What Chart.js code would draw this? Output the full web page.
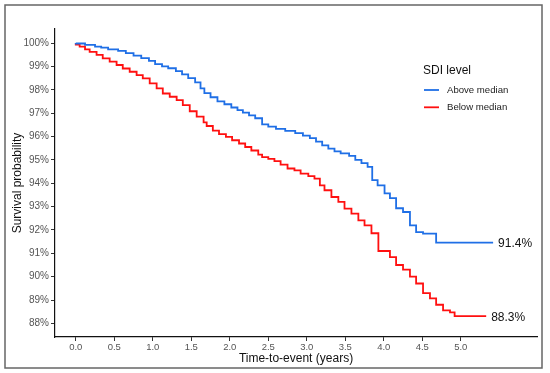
<!DOCTYPE html>
<html>
<head>
<meta charset="utf-8">
<script src="https://cdn.jsdelivr.net/npm/chart.js@4.4.1/dist/chart.umd.min.js"></script>
<style>
    html, body { margin: 0; padding: 0; background: #fff; }
    #wrap { width: 550px; height: 373px; position: relative; }
</style>
</head>
<body>
<div id="wrap"><canvas id="km" width="550" height="373"></canvas></div>
<script>
// Kaplan-Meier steps (years, % surviving)
const aboveTime = [0, 0.12, 0.25, 0.33, 0.42, 0.55, 0.65, 0.75, 0.85, 0.95, 1.03, 1.12, 1.2, 1.3, 1.38,
    1.46, 1.55, 1.62, 1.67, 1.75, 1.84, 1.93, 2.02, 2.1, 2.17, 2.25, 2.33, 2.42, 2.5, 2.6, 2.72, 2.85,
    2.95, 3.04, 3.12, 3.2, 3.28, 3.36, 3.44, 3.55, 3.63, 3.71, 3.79, 3.85, 3.92, 4.01, 4.08, 4.16,
    4.25, 4.34, 4.42, 4.51, 4.68, 4.76, 5.42];
const aboveSurv = [100, 99.98, 99.92, 99.85, 99.8, 99.73, 99.66, 99.57, 99.46, 99.35, 99.24, 99.1, 99.0,
    98.92, 98.8, 98.66, 98.5, 98.32, 98.06, 97.86, 97.68, 97.5, 97.38, 97.24, 97.13, 97.02, 96.9, 96.78,
    96.52, 96.42, 96.33, 96.24, 96.14, 96.04, 95.93, 95.78, 95.62, 95.48, 95.36, 95.28, 95.17, 95.0,
    94.86, 94.7, 94.13, 93.91, 93.57, 93.36, 92.93, 92.77, 92.2, 91.91, 91.84, 91.46, 91.46];

const belowTime = [0, 0.05, 0.12, 0.18, 0.27, 0.35, 0.44, 0.53, 0.61, 0.7, 0.79, 0.87, 0.96, 1.05, 1.13,
    1.22, 1.31, 1.39, 1.48, 1.57, 1.66, 1.7, 1.78, 1.86, 1.95, 2.03, 2.12, 2.2, 2.28, 2.37, 2.42, 2.5,
    2.58, 2.66, 2.75, 2.84, 2.92, 3.02, 3.1, 3.17, 3.23, 3.32, 3.41, 3.49, 3.58, 3.67, 3.75, 3.84,
    3.93, 4.08, 4.16, 4.25, 4.34, 4.42, 4.51, 4.6, 4.68, 4.77, 4.86, 4.92, 5.01, 5.33];
const belowSurv = [100, 99.93, 99.85, 99.73, 99.62, 99.49, 99.34, 99.2, 99.06, 98.91, 98.77, 98.63, 98.49,
    98.27, 98.06, 97.84, 97.7, 97.56, 97.34, 97.08, 96.85, 96.6, 96.45, 96.25, 96.1, 95.98, 95.84, 95.7,
    95.55, 95.4, 95.22, 95.12, 95.04, 94.95, 94.8, 94.63, 94.55, 94.41, 94.3, 94.2, 93.91, 93.7, 93.41,
    93.2, 92.91, 92.7, 92.41, 92.2, 91.86, 91.1, 90.84, 90.5, 90.3, 90.0, 89.71, 89.3, 89.07, 88.8,
    88.56, 88.47, 88.31, 88.31];

const groupNames = ["Above median", "Below median"];
const groupColors = ["#1f6fe6", "#ff1010"];
const endLabels = ["91.4%", "88.3%"];
const xTicks = [0, 0.5, 1, 1.5, 2, 2.5, 3, 3.5, 4, 4.5, 5];
const yTicks = [88, 89, 90, 91, 92, 93, 94, 95, 96, 97, 98, 99, 100];

const FONT = "'Liberation Sans', Arial, sans-serif";

const toPoints = (t, s) => t.map((v, i) => ({ x: v, y: s[i] }));

const framePlugin = {
    id: "frame",
    afterDraw(chart) {
        const ctx = chart.ctx;
        ctx.save();
        ctx.strokeStyle = "#666";
        ctx.lineWidth = 1.5;
        ctx.strokeRect(5, 5, 537, 363);
        ctx.restore();
    }
};

const legendPlugin = {
    id: "kmLegend",
    afterDraw(chart) {
        const ctx = chart.ctx;
        ctx.save();
        ctx.textBaseline = "middle";
        ctx.fillStyle = "#111";
        ctx.font = "12px " + FONT;
        ctx.fillText("SDI level", 423, 71);
        ctx.font = "9.6px " + FONT;
        groupNames.forEach((name, i) => {
            const y = 90 + i * 17.3;
            ctx.strokeStyle = groupColors[i];
            ctx.lineWidth = 1.8;
            ctx.beginPath();
            ctx.moveTo(424, y);
            ctx.lineTo(439, y);
            ctx.stroke();
            ctx.fillStyle = "#222";
            ctx.fillText(name, 447, y);
        });

        // survival at end of follow-up
        const xs = chart.scales.x;
        const ys = chart.scales.y;
        ctx.font = "12px " + FONT;
        ctx.fillStyle = "#111";
        chart.data.datasets.forEach((ds, i) => {
            const last = ds.data[ds.data.length - 1];
            ctx.fillText(endLabels[i], xs.getPixelForValue(last.x) + 5, ys.getPixelForValue(last.y) + 1);
        });
        ctx.restore();
    }
};

new Chart(document.getElementById("km"), {
    type: "line",
    data: {
        datasets: [{
            label: groupNames[0],
            data: toPoints(aboveTime, aboveSurv),
            borderColor: groupColors[0],
            borderWidth: 1.8,
            stepped: "after",
            pointRadius: 0,
            fill: false
        }, {
            label: groupNames[1],
            data: toPoints(belowTime, belowSurv),
            borderColor: groupColors[1],
            borderWidth: 1.8,
            stepped: "after",
            pointRadius: 0,
            fill: false
        }]
    },
    options: {
        responsive: false,
        animation: false,
        events: [],
        layout: {
            padding: { left: 0, top: 29, right: 13, bottom: 0 }
        },
        plugins: {
            legend: { display: false },
            tooltip: { enabled: false }
        },
        scales: {
            x: {
                type: "linear",
                min: -0.27,
                max: 5.99,
                afterBuildTicks: scale => {
                    scale.ticks = xTicks.map(v => ({ value: v }));
                },
                afterFit: scale => {
                    scale.height = 36;
                },
                grid: {
                    drawOnChartArea: false,
                    tickLength: 4,
                    tickColor: "#333"
                },
                border: { display: true, color: "#111", width: 1.2 },
                ticks: {
                    color: "#555",
                    padding: 1,
                    maxRotation: 0,
                    font: { family: FONT, size: 9.5 },
                    callback: v => v.toFixed(1)
                },
                title: {
                    display: true,
                    text: "Time-to-event (years)",
                    color: "#111",
                    font: { family: FONT, size: 12 },
                    padding: { top: 0, bottom: 7 }
                }
            },
            y: {
                min: 87.42,
                max: 100.6,
                afterBuildTicks: scale => {
                    scale.ticks = yTicks.map(v => ({ value: v }));
                },
                afterFit: scale => {
                    scale.width = 55;
                },
                grid: {
                    drawOnChartArea: false,
                    tickLength: 4,
                    tickColor: "#333"
                },
                border: { display: true, color: "#111", width: 1.2 },
                ticks: {
                    color: "#555",
                    padding: 2,
                    font: { family: FONT, size: 10 },
                    callback: v => v + "%"
                },
                title: {
                    display: true,
                    text: "Survival probability",
                    color: "#111",
                    font: { family: FONT, size: 12 },
                    padding: { top: 10, bottom: 0 }
                }
            }
        }
    },
    plugins: [framePlugin, legendPlugin]
});
</script>
</body>
</html>
